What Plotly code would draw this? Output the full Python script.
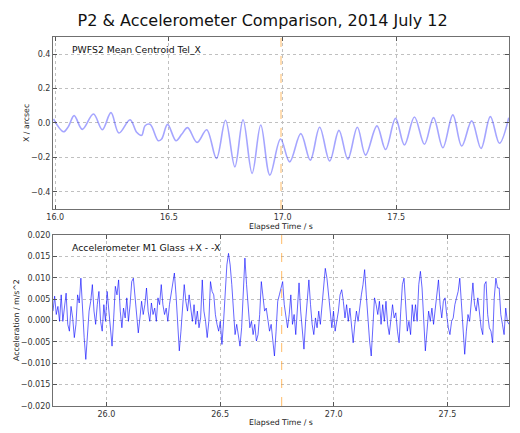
import numpy as np
import plotly.graph_objects as go

# ---- Data ----
title_text = "P2 & Accelerometer Comparison, 2014 July 12"

# PWFS2 mean centroid (extrema), time in s, value in arcsec
pwfs_time = [15.992, 16.036, 16.058, 16.083, 16.119, 16.168, 16.207, 16.245, 16.280, 16.329,
             16.358, 16.380, 16.395, 16.417, 16.453, 16.468, 16.494, 16.531, 16.556, 16.582,
             16.624, 16.666, 16.709, 16.749, 16.790, 16.826, 16.866, 16.904, 16.944, 16.991,
             17.031, 17.080, 17.122, 17.163, 17.207, 17.248, 17.287, 17.329, 17.365, 17.415,
             17.453, 17.497, 17.536, 17.580, 17.624, 17.664, 17.705, 17.749, 17.788, 17.832,
             17.873, 17.914, 17.954, 17.995]
pwfs_x = [0.023, -0.051, -0.020, 0.043, -0.037, 0.052, -0.039, 0.060, -0.058, 0.019,
          -0.054, -0.072, -0.016, -0.008, -0.103, -0.093, -0.008, -0.103, -0.066, -0.027,
          -0.113, -0.039, -0.206, 0.016, -0.255, 0.019, -0.293, -0.012, -0.303, -0.093,
          -0.226, -0.062, -0.216, -0.025, -0.221, -0.043, -0.210, -0.025, -0.187, -0.017,
          -0.154, 0.027, -0.128, 0.035, -0.124, 0.031, -0.144, 0.047, -0.134, 0.012,
          -0.148, 0.037, -0.118, 0.031]

# Accelerometer, uniformly sampled; values in 1e-3 m/s^2
acc_start, acc_end = 25.765, 27.771
acc_milli = [
    2.2, 5.7, 1.4, 3.3, -0.2, 6.0, -0.2, 3.7, 6.4, -0.9, -2.5, 3.3, 0.6, -4.0, -0.9, 6.0, 4.1, 9.9, 1.4, -4.0,
    -9.1, -3.3, 2.2, 4.5, 8.4, 2.2, -0.9, 3.7, 6.8, -0.2, -2.5, 3.7, -0.2, 6.8, 2.9, -1.7, -6.0, 0.6, 8.0, 6.0,
    9.5, 2.2, -1.7, 2.9, 0.6, 5.3, -0.2, 3.7, 9.1, 9.9, 6.0, 2.2, -2.9, 0.6, 4.5, 1.4, 3.7, 7.6, 2.2, -0.2,
    4.1, 1.4, 2.9, -0.2, 5.3, 3.7, 8.4, 3.7, 1.4,
    2.9, -0.2, 3.7, 6.0, 8.4, 11.1, 6.0, -0.2, -7.1, -2.5, 3.7, 8.4, 4.5, 2.2, 6.0, 2.2, -0.2, 3.7, -0.9,
    2.2, -1.7, 0.6, 9.5, 2.2, -0.2, -4.0, -0.2, 9.1, 6.8, 6.0, 1.4, -0.9, -2.5, -0.2, -5.6, -0.2, 7.6, 13.0,
    15.7, 13.0, 8.4, 2.2, -3.3, -0.9, -4.0, -6.0, -1.7, 8.4, 14.6, 8.4, 2.2, -1.7, -0.2, -3.3, -0.9, -4.8,
    -3.3, 1.4, 9.1, 6.0, 2.2, 2.9, -0.2, -2.5, -0.9, -4.8, -8.3, -2.5, 4.5, 6.0,
    7.6, 9.1, 3.7, 0.6, -1.7, 1.4, 6.0, -0.9, 1.4, -3.3, 2.9, 8.8, 2.2, -3.3, -6.7, -0.2, 6.0, 9.5, 3.7,
    -0.9, -3.3, 0.6, -1.7, 2.2, -0.9, 3.7, 6.8, 12.2, 9.9, 5.3, 2.2, -1.7, 2.2, -2.5, -0.2, 2.2, 6.0, 7.2,
    4.5, 0.6, 3.7, -0.2, 2.9, -0.9, -5.2, -0.9, 2.2, -0.2, 3.7, 6.0, 8.4, 11.9, 6.0, -0.2, -4.8, -8.3, -2.5,
    5.3, 3.7, 1.4, 4.5, -0.9, 3.7, -0.2, 4.5, -0.9, -3.3, 0.6, 3.7, 0.6,
    1.8, -2.5, -5.2, 2.2, 8.4, 9.9, 2.2, -2.5, -0.2, -3.3, 3.7, -0.2, 3.7, -0.2, 8.4, 11.5, 7.6, -0.2, -7.1,
    -2.5, 2.2, -0.2, 2.9, -0.9, 2.2, 5.3, 9.5, 3.7, 0.6, 4.5, 5.3, 1.4, -1.7, -3.3, -0.2, 0.6, 3.7, 5.3,
    6.8, 9.9, 3.7, -1.7, -7.9, -2.5, 1.4, -0.2, 5.3, 8.8, 3.7, 2.2, 5.3, 1.4, -1.7, -3.3, 8.4, 9.1, 1.4,
    -1.7, -2.5, -5.2, 5.3, 9.9, 7.6, 7.6, 1.4, -0.9, -3.3, 2.9, -0.2, -0.9,
]

# Marker (orange dashed) times
top_marker_t = 16.993
bot_marker_t = 26.771
top_range = [15.99, 17.996]
bot_range = [25.765, 27.771]

top_yticks = [-0.4, -0.2, 0.0, 0.2, 0.4]
bot_yticks = [-0.020, -0.015, -0.010, -0.005, 0.000, 0.005, 0.010, 0.015, 0.020]
top_xticks = [16.0, 16.5, 17.0, 17.5]
bot_xticks = [26.0, 26.5, 27.0, 27.5]

acc_time = np.linspace(acc_start, acc_end, len(acc_milli))
acc_val = np.array(acc_milli) * 1e-3

FONT = "DejaVu Sans"
fig = go.Figure()
fig.add_trace(go.Scatter(x=pwfs_time, y=pwfs_x, mode="lines",
                         line=dict(color="rgba(40,40,255,0.42)", width=1.6, shape="spline", smoothing=1.0),
                         xaxis="x", yaxis="y", showlegend=False, hoverinfo="skip"))
fig.add_trace(go.Scatter(x=acc_time, y=acc_val, mode="lines",
                         line=dict(color="rgba(0,0,255,0.6)", width=1),
                         xaxis="x2", yaxis="y2", showlegend=False, hoverinfo="skip"))

axis_common = dict(showgrid=True, gridcolor="#c0c0c0", griddash="dot", gridwidth=1,
                   showline=True, linecolor="#707070", linewidth=1, mirror="allticks",
                   ticks="inside", ticklen=4, tickcolor="#555",
                   tickfont=dict(family=FONT, size=8, color="#333"), zeroline=False)

fig.update_layout(
    width=520, height=433,
    margin=dict(l=53, r=11, t=37, b=27),
    paper_bgcolor="white", plot_bgcolor="white",
    title=dict(text=title_text, x=0.505, xanchor="center", y=1 - 20 / 433, yanchor="middle",
               font=dict(family=FONT, size=16, color="#111")),
    xaxis=dict(axis_common, domain=[0, 1], range=top_range, tickvals=top_xticks, tickformat=".1f", anchor="y"),
    yaxis=dict(axis_common, domain=[0.534, 1], range=[-0.5, 0.5], tickvals=top_yticks, tickformat=".1f", anchor="x"),
    xaxis2=dict(axis_common, domain=[0, 1], range=bot_range, tickvals=bot_xticks, tickformat=".1f", anchor="y2"),
    yaxis2=dict(axis_common, domain=[0, 0.4634], range=[-0.02, 0.02], tickvals=bot_yticks, tickformat=".3f", anchor="x2"),
    shapes=[
        dict(type="line", xref="x", yref="y domain", x0=top_marker_t, x1=top_marker_t, y0=0, y1=1,
             line=dict(color="rgba(255,160,40,0.7)", width=1, dash="dash")),
        dict(type="line", xref="x2", yref="y2 domain", x0=bot_marker_t, x1=bot_marker_t, y0=0, y1=1,
             line=dict(color="rgba(255,160,40,0.7)", width=1, dash="dash")),
    ],
)

ann_font = dict(family=FONT, size=7.8, color="#222")
annotations = [
    dict(text="PWFS2 Mean Centroid Tel_X", xref="paper", yref="paper", x=(70 - 53) / 456, y=1 - (50 - 37) / 369,
         xanchor="left", yanchor="middle", showarrow=False, font=dict(family=FONT, size=9.3, color="#111")),
    dict(text="Accelerometer M1 Glass +X - -X", xref="paper", yref="paper", x=(70 - 53) / 456, y=1 - (247 - 37) / 369,
         xanchor="left", yanchor="middle", showarrow=False, font=dict(family=FONT, size=9.3, color="#111")),
    dict(text="Elapsed Time / s", xref="paper", yref="paper", x=0.5, y=1 - (226 - 37) / 369,
         xanchor="center", yanchor="middle", showarrow=False, font=ann_font),
    dict(text="Elapsed Time / s", xref="paper", yref="paper", x=0.5, y=1 - (422.5 - 37) / 369,
         xanchor="center", yanchor="middle", showarrow=False, font=ann_font),
    dict(text="X / arcsec", xref="paper", yref="paper", x=(27 - 53) / 456, y=1 - (123 - 37) / 369,
         xanchor="center", yanchor="middle", textangle=-90, showarrow=False, font=ann_font),
    dict(text="Acceleration / m/s^2", xref="paper", yref="paper", x=(16 - 53) / 456, y=1 - (320 - 37) / 369,
         xanchor="center", yanchor="middle", textangle=-90, showarrow=False, font=ann_font),
]
fig.update_layout(annotations=annotations)

fig.write_html("out.html")
